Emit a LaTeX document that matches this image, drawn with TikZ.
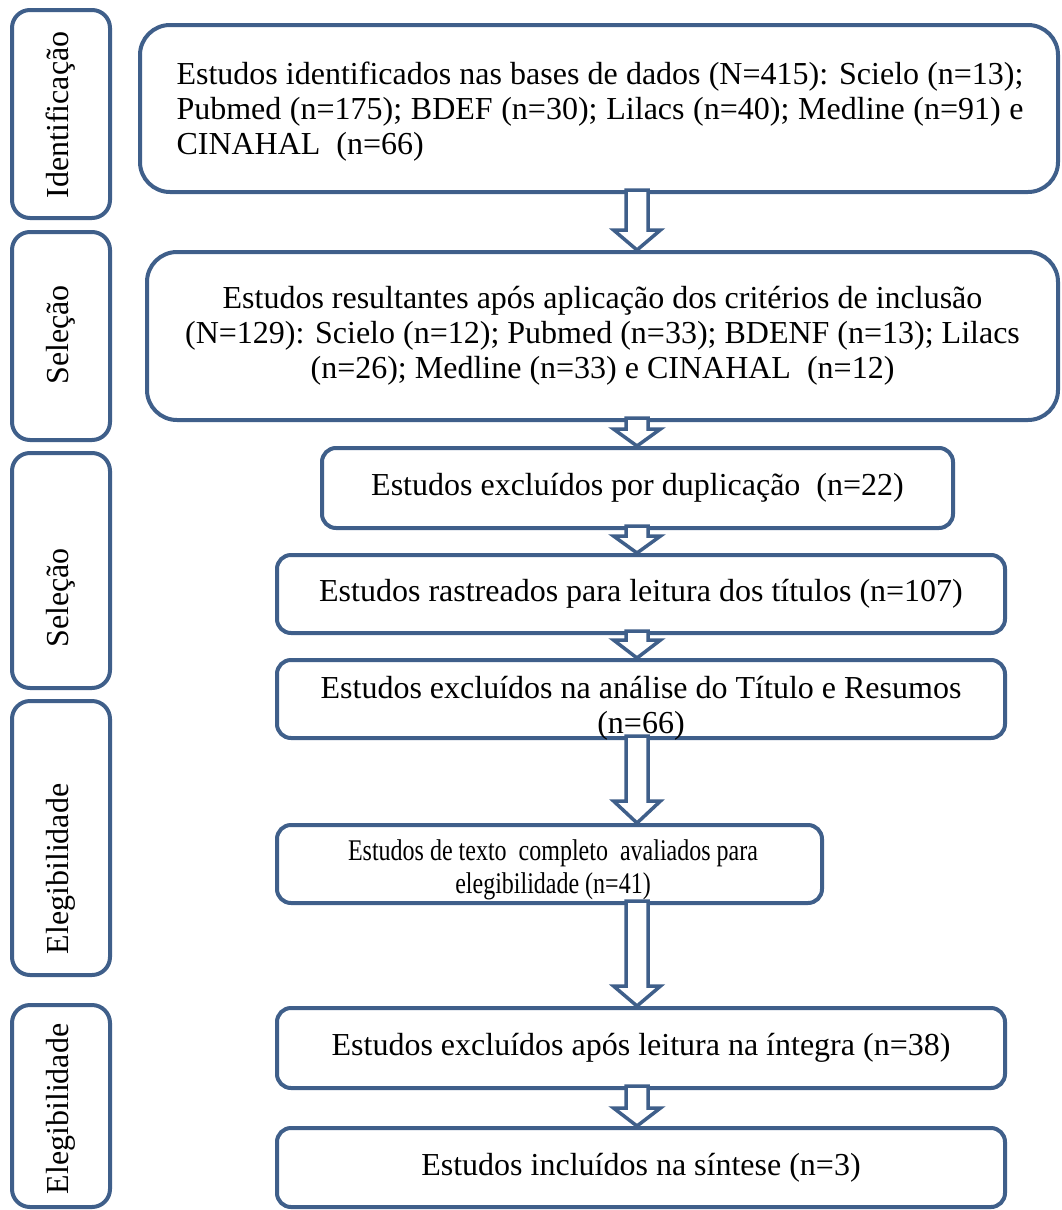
\documentclass[tikz,border=0pt]{standalone}
\usepackage{fontspec}
\setmainfont{Liberation Serif}
\usetikzlibrary{calc}
\definecolor{frame}{HTML}{3F5F8A}
\newcommand{\blockarr}[3]{%
  \draw[blockarrow] let \p1=(#1.south), \p2=(#2.north), \p3=(acol) in
   (\x3-11pt,\y1+4pt) -- (\x3-11pt,\y2+#3) -- (\x3-23.5pt,\y2+#3) -- (\x3,\y2)
   -- (\x3+23.5pt,\y2+#3) -- (\x3+11pt,\y2+#3) -- (\x3+11pt,\y1+4pt) -- cycle;}
\begin{document}
\begin{tikzpicture}[x=1pt,y=-1pt,
  every node/.style={font=\fontsize{32}{35}\selectfont},
  box/.style={draw=frame, line width=4pt, inner sep=0pt, align=center, fill=white},
  bigbox/.style={box, rounded corners=30pt},
  smallbox/.style={box, rounded corners=14pt, minimum height=78pt},
  sidebox/.style={box, rounded corners=18pt, minimum width=98pt},
  sidelabel/.style={rotate=90, inner sep=0pt},
  boxtext/.style={inner sep=0pt, align=center},
  blockarrow/.style={draw=frame, fill=white, line width=3.5pt, line join=miter}]
\useasboundingbox[fill=white] (0,0) rectangle (1062,1210);
\coordinate (acol) at (637,0);

% side boxes
\node[sidebox, minimum height=208pt] (s1) at (61,114) {};
\node[sidebox, minimum height=208pt] (s2) at (61,336) {};
\node[sidebox, minimum height=235pt] (s3) at (61,570.5) {};
\node[sidebox, minimum height=274pt] (s4) at (61,838) {};
\node[sidebox, minimum height=202pt] (s5) at (61,1106) {};
\node[sidelabel] (l1) at (61,115) {Identificação};
\node[sidelabel] (l2) at (61,335) {Seleção};
\node[sidelabel] (l3) at (61,598) {Seleção};
\node[sidelabel] (l4) at (61,869) {Elegibilidade};
\node[sidelabel] (l5) at (61,1109) {Elegibilidade};

% main boxes
\node[bigbox, minimum width=918pt, minimum height=167pt] (b1) at (599,108.5) {};
\node[boxtext, align=left] (t1) at (600,112)
  {\makebox[847pt][s]{Estudos identificados nas bases de dados (N=415): Scielo (n=13);}\\
   \makebox[847pt][s]{Pubmed (n=175); BDEF (n=30); Lilacs (n=40); Medline (n=91) e}\\
   CINAHAL\ \ (n=66)};
\node[bigbox, minimum width=911pt, minimum height=168pt] (b2) at (602.5,336)
  {Estudos resultantes após aplicação dos critérios de inclusão\\
   (N=129): Scielo (n=12); Pubmed (n=33); BDENF (n=13); Lilacs\\
   (n=26); Medline (n=33) e CINAHAL\ \ (n=12)};
\node[smallbox, minimum width=631pt, minimum height=80pt] (b3) at (637.5,488)
  {Estudos excluídos por duplicação\ \ (n=22)};
\node[smallbox, minimum width=728pt] (b4) at (641,594)
  {Estudos rastreados para leitura dos títulos (n=107)};
\node[smallbox, minimum width=728pt] (b5) at (641,699) {};
\node[boxtext] (t5) at (641,708)
  {Estudos excluídos na análise do Título e Resumos\\(n=66)};
\node[smallbox, minimum width=545pt] (b6) at (549.5,864) {};
\node[boxtext, font=\fontsize{30}{33}\selectfont] (t6) at (553,870)
  {\scalebox{0.8}[1]{Estudos de texto\ \ completo\ \ avaliados para}\\
   \scalebox{0.8}[1]{elegibilidade (n=41)}};
\node[smallbox, minimum width=728pt, minimum height=80pt] (b7) at (641,1048)
  {Estudos excluídos após leitura na íntegra (n=38)};
\node[smallbox, minimum width=728pt, minimum height=79pt] (b8) at (641,1167.5)
  {Estudos incluídos na síntese (n=3)};

% block arrows
\blockarr{b1}{b2}{20pt}
\blockarr{b2}{b3}{17pt}
\blockarr{b3}{b4}{17pt}
\blockarr{b4}{b5}{18pt}
\blockarr{b5}{b6}{22pt}
\blockarr{b6}{b7}{20pt}
\blockarr{b7}{b8}{18pt}
\end{tikzpicture}
\end{document}
